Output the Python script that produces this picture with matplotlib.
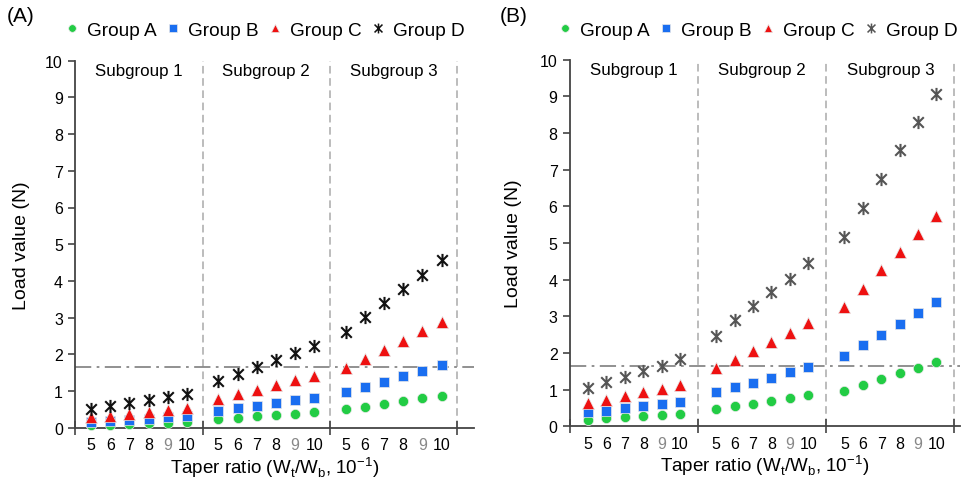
import matplotlib
matplotlib.use("Agg")
import matplotlib.pyplot as plt
from matplotlib.lines import Line2D
from matplotlib.path import Path

plt.rcParams['font.family'] = ['Liberation Sans', 'DejaVu Sans']
plt.rcParams['mathtext.fontset'] = 'custom'
plt.rcParams['mathtext.rm'] = 'Liberation Sans'

ratios = [5, 6, 7, 8, 9, 10]
subgroups = ["Subgroup 1", "Subgroup 2", "Subgroup 3"]
groups = ["Group A", "Group B", "Group C", "Group D"]

# Panel A values (N): [subgroup][ratio]
a_groupA = [[0.06, 0.08, 0.10, 0.12, 0.14, 0.16],
            [0.24, 0.27, 0.31, 0.35, 0.38, 0.43],
            [0.51, 0.57, 0.64, 0.73, 0.80, 0.87]]
a_groupB = [[0.16, 0.19, 0.22, 0.25, 0.28, 0.32],
            [0.46, 0.53, 0.60, 0.67, 0.75, 0.82],
            [0.96, 1.10, 1.25, 1.40, 1.55, 1.71]]
a_groupC = [[0.28, 0.33, 0.38, 0.43, 0.49, 0.55],
            [0.78, 0.92, 1.03, 1.16, 1.30, 1.40],
            [1.63, 1.87, 2.13, 2.37, 2.63, 2.88]]
a_groupD = [[0.50, 0.59, 0.67, 0.75, 0.85, 0.93],
            [1.26, 1.46, 1.65, 1.84, 2.03, 2.22],
            [2.60, 3.01, 3.39, 3.77, 4.16, 4.57]]

# Panel B values (N)
b_groupA = [[0.18, 0.22, 0.26, 0.29, 0.32, 0.34],
            [0.47, 0.55, 0.62, 0.69, 0.77, 0.85],
            [0.97, 1.13, 1.29, 1.45, 1.59, 1.75]]
b_groupB = [[0.38, 0.43, 0.49, 0.55, 0.61, 0.67],
            [0.93, 1.06, 1.17, 1.33, 1.47, 1.61],
            [1.93, 2.22, 2.49, 2.79, 3.09, 3.38]]
b_groupC = [[0.64, 0.73, 0.82, 0.93, 1.02, 1.14],
            [1.58, 1.82, 2.05, 2.29, 2.54, 2.82],
            [3.25, 3.75, 4.27, 4.75, 5.25, 5.75]]
b_groupD = [[1.04, 1.20, 1.34, 1.50, 1.65, 1.84],
            [2.47, 2.90, 3.28, 3.66, 4.03, 4.45],
            [5.17, 5.95, 6.75, 7.55, 8.30, 9.08]]

threshold = 1.65
y_ticks = list(range(0, 11))

colors = ['#22cc44', '#1a6ef0', '#ee1111']

# "x plus vertical bar" asterisk marker
star_path = Path([(-0.8, -0.8), (0.8, 0.8), (-0.8, 0.8), (0.8, -0.8), (0, -1), (0, 1)],
                 [Path.MOVETO, Path.LINETO, Path.MOVETO, Path.LINETO, Path.MOVETO, Path.LINETO])

fig = plt.figure(figsize=(9.61, 4.81), dpi=100)


def draw_panel(rect, G, right_extra, data, d_color, label, legend_cx, label_x, ylab_x):
    ax = fig.add_axes(rect)
    gap = G - 5
    left = -gap / 2
    seps = [5 + gap / 2 + k * G for k in range(3)]
    right = seps[-1] + right_extra
    markers = [dict(marker='o', ms=7.3), dict(marker='s', ms=7.3),
               dict(marker='^', ms=8.0), dict(marker=star_path, ms=9.5)]
    cols = colors + [d_color]
    for gi, vals in enumerate(data):
        for sg in range(3):
            xs = [sg * G + (r - 5) for r in ratios]
            ax.plot(xs, vals[sg], linestyle='none', color=cols[gi],
                    mec=cols[gi] if gi == 3 else '#e8e8e8',
                    mew=1.5 if gi == 3 else 0.5, zorder=3, clip_on=False,
                    **markers[gi])
    ax.set_xlim(left, right)
    ax.set_ylim(0, 10)
    for s in seps:
        ax.axvline(s, color='#aaaaaa', ls=(0, (5, 3)), lw=1.1, zorder=1)
    ax.axhline(threshold, color='#888888', ls=(0, (9, 3, 1.5, 3)), lw=1.3, zorder=2)
    for sg in range(3):
        cx = (seps[sg] - G + seps[sg]) / 2 if sg > 0 else (left + seps[0]) / 2
        ax.text(cx, 0.974, subgroups[sg], transform=ax.get_xaxis_transform(),
                ha='center', va='center', fontsize=12.2)
    for sp in ['top', 'right']:
        ax.spines[sp].set_visible(False)
    for sp in ['left', 'bottom']:
        ax.spines[sp].set_color('#444444')
        ax.spines[sp].set_linewidth(1.3)
    ax.set_yticks(y_ticks)
    ax.tick_params(axis='y', direction='out', length=5, width=1.2, color='#444444',
                   labelsize=11.5, pad=4)
    ax.set_xticks([left] + seps)
    ax.set_xticklabels([])
    ax.tick_params(axis='x', which='major', direction='inout', length=10, width=1.2,
                   color='#444444')
    minor_pos = [sg * G + (r - 5) for sg in range(3) for r in ratios]
    ax.set_xticks(minor_pos, minor=True)
    ax.set_xticklabels([str(r) for sg in range(3) for r in ratios], minor=True)
    ax.tick_params(axis='x', which='minor', length=0, labelsize=11.5, pad=7)
    for t in ax.get_xticklabels(minor=True):
        if t.get_text() == '9':
            t.set_color('#888888')
    ax.set_xlabel(r'Taper ratio (W$_\mathregular{t}$/W$_\mathregular{b}$, 10$^\mathregular{-1}$)',
                  fontsize=13.5, labelpad=1)
    ax.set_ylabel('Load value (N)', fontsize=14)
    ax.yaxis.set_label_coords(ylab_x, 0.5)
    handles = [Line2D([], [], linestyle='none', color=cols[i],
                      mec=cols[i] if i == 3 else '#e8e8e8', mew=1.1 if i == 3 else 0.5,
                      marker=markers[i]['marker'], ms=markers[i]['ms'] * 0.75)
               for i in range(4)]
    fig.legend(handles, groups, loc='center', bbox_to_anchor=(legend_cx, 1 - 31 / 481),
               ncol=4, frameon=False, fontsize=13.7, handlelength=0.7, handletextpad=0.45,
               columnspacing=0.5, borderpad=0)
    fig.text(label_x, 1 - 17 / 481, label, fontsize=15, ha='left', va='center')
    return ax


draw_panel([75.4 / 961, 52.3 / 481, (474 - 75.4) / 961, 367.0 / 481], 6.63, 0.875,
           [a_groupA, a_groupB, a_groupC, a_groupD], '#111111', '(A)', 265 / 961, 7 / 961, -0.115)
draw_panel([570 / 961, 53.7 / 481, 390 / 961, 366.5 / 481], 6.96, 0.3,
           [b_groupA, b_groupB, b_groupC, b_groupD], '#555555', '(B)', 758 / 961, 500 / 961, -0.123)

fig.savefig('out.png', dpi=100, facecolor='white')
